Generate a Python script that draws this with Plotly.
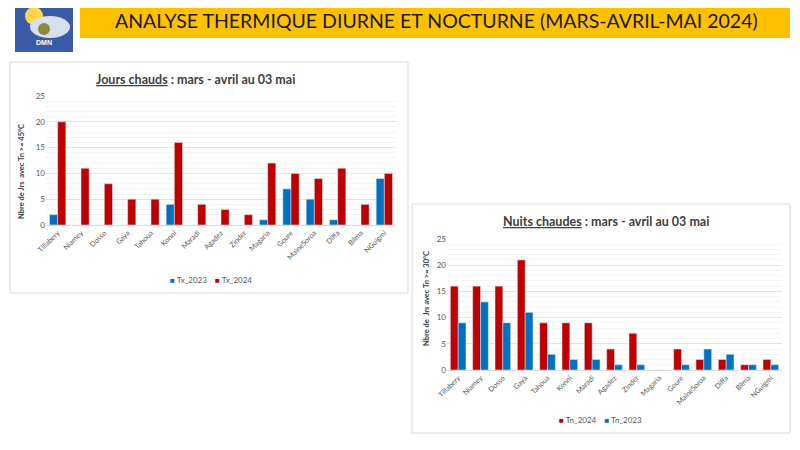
import plotly.graph_objects as go

stations = ["Tillabery", "Niamey", "Dosso", "Gaya", "Tahoua", "Konni", "Maradi", "Agadez",
            "Zinder", "Magaria", "Goure", "MaineSoroa", "Diffa", "Bilma", "NGuigmi"]

# jours chauds (Tx >= 45)
tx_2023 = [2, 0, 0, 0, 0, 4, 0, 0, 0, 1, 7, 5, 1, 0, 9]
tx_2024 = [20, 11, 8, 5, 5, 16, 4, 3, 2, 12, 10, 9, 11, 4, 10]

# nuits chaudes (Tn >= 30)
tn_2024 = [16, 16, 16, 21, 9, 9, 9, 4, 7, 0, 4, 2, 2, 1, 2]
tn_2023 = [9, 13, 9, 11, 3, 2, 2, 1, 1, 0, 1, 4, 3, 1, 1]

RED = "#C00000"
BLUE = "#0070C0"
W, H = 800, 450
OFF = 8  # marge par defaut du body de la page html
FONT = "Lato, Open Sans, Arial"


def px(x):
    return (x - OFF) / W


def py(y):
    return 1 - (y - OFF) / H


fig = go.Figure()
fig.add_trace(go.Bar(x=stations, y=tx_2023, name="Tx_2023", marker_color=BLUE, xaxis="x", yaxis="y"))
fig.add_trace(go.Bar(x=stations, y=tx_2024, name="Tx_2024", marker_color=RED, xaxis="x", yaxis="y"))
fig.add_trace(go.Bar(x=stations, y=tn_2024, name="Tn_2024", marker_color=RED, xaxis="x2", yaxis="y2"))
fig.add_trace(go.Bar(x=stations, y=tn_2023, name="Tn_2023", marker_color=BLUE, xaxis="x2", yaxis="y2"))

xcommon = dict(tickangle=-45, tickfont=dict(family=FONT, size=7.2, color="#595959"),
               showline=True, linecolor="#D9D9D9", ticks="", showgrid=False,
               automargin=False, fixedrange=True)
ycommon = dict(range=[0, 25], dtick=5, tickfont=dict(family=FONT, size=8, color="#595959"),
               gridcolor="#E4E4E4", minor=dict(dtick=1, showgrid=True, gridcolor="#F5F5F5"),
               zeroline=False, ticks="", automargin=False, fixedrange=True)

shapes = []
# bandeau jaune
shapes.append(dict(type="rect", xref="paper", yref="paper", x0=px(80), x1=px(790), y0=py(38), y1=py(4),
                   fillcolor="#FFC000", line_width=0, layer="below"))
# logo
shapes.append(dict(type="rect", xref="paper", yref="paper", x0=px(15), x1=px(73), y0=py(52), y1=py(4),
                   fillcolor="#3A5BA8", line_width=0, layer="below"))
shapes.append(dict(type="circle", xref="paper", yref="paper", x0=px(25), x1=px(43), y0=py(25), y1=py(7),
                   fillcolor="#FFD54A", line_width=0))
shapes.append(dict(type="circle", xref="paper", yref="paper", x0=px(30), x1=px(70), y0=py(38), y1=py(16),
                   fillcolor="#D6E0F0", line_width=0))
shapes.append(dict(type="circle", xref="paper", yref="paper", x0=px(38), x1=px(50), y0=py(35), y1=py(23),
                   fillcolor="#8C8A3E", line_width=0))
# cadres des graphiques
shapes.append(dict(type="rect", xref="paper", yref="paper", x0=px(10), x1=px(408), y0=py(293), y1=py(62),
                   fillcolor="white", line=dict(color="#D9D9D9", width=1), layer="below"))
shapes.append(dict(type="rect", xref="paper", yref="paper", x0=px(412), x1=px(790), y0=py(433), y1=py(204),
                   fillcolor="white", line=dict(color="#D9D9D9", width=1), layer="below"))

title_font = dict(family=FONT, size=12.5, color="#404040")
axis_title_font = dict(family=FONT, size=7.5, color="#404040")
legend_font = dict(family=FONT, size=8, color="#595959")


def legend_text(names, colors):
    parts = [f"<span style='color:{c}'>■</span> {n}" for n, c in zip(names, colors)]
    return "    ".join(parts)


annotations = [
    dict(text="ANALYSE THERMIQUE DIURNE ET NOCTURNE (MARS-AVRIL-MAI 2024)", x=px(436), y=py(21),
         font=dict(family=FONT, size=19.5, color="#1a1a1a")),
    dict(text="<b>DMN</b>", x=px(44), y=py(43), font=dict(family="Arial", size=7, color="white")),
    dict(text="<b><u>Jours chauds</u> : mars - avril au 03 mai</b>", x=px(195), y=py(79), font=title_font),
    dict(text="<b><u>Nuits chaudes</u> : mars - avril au 03 mai</b>", x=px(606), y=py(222), font=title_font),
    dict(text="<b>Nbre de Jrs  avec Tn >= 45°C</b>", x=px(21), y=py(172), textangle=-90,
         font=axis_title_font),
    dict(text="<b>Nbre de  Jrs avec Tn >= 30°C</b>", x=px(426), y=py(299), textangle=-90,
         font=axis_title_font),
    dict(text=legend_text(["Tx_2023", "Tx_2024"], [BLUE, RED]), x=px(211), y=py(280), font=legend_font),
    dict(text=legend_text(["Tn_2024", "Tn_2023"], [RED, BLUE]), x=px(600), y=py(420), font=legend_font),
]
for a in annotations:
    a.update(xref="paper", yref="paper", xanchor="center", yanchor="middle", showarrow=False)

fig.update_layout(
    width=W, height=H,
    margin=dict(l=0, r=0, t=0, b=0, autoexpand=False),
    paper_bgcolor="white", plot_bgcolor="white",
    showlegend=False,
    barmode="group", bargap=0.3, bargroupgap=0,
    xaxis=dict(domain=[px(46), px(396)], anchor="y", **xcommon),
    yaxis=dict(domain=[py(225), py(96)], anchor="x", **ycommon),
    xaxis2=dict(domain=[px(447), px(782)], anchor="y2", **xcommon),
    yaxis2=dict(domain=[py(370), py(239)], anchor="x2", **ycommon),
    shapes=shapes,
    annotations=annotations,
)

fig.write_html("out.html")
